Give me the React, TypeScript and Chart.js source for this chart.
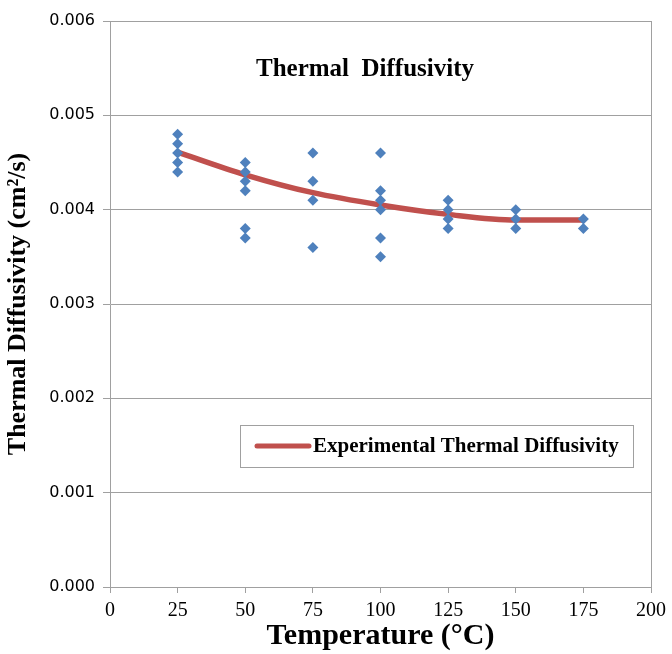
import React, { useEffect, useRef } from "react";
import { Chart, registerables } from "chart.js";

Chart.register(...registerables);

const chartTitle = "Thermal  Diffusivity";
const xAxisTitle = "Temperature (°C)";
const yAxisTitle = "Thermal Diffusivity (cm²/s)";
const legendLabel = "Experimental Thermal Diffusivity";

// measured points
const pointTemps = [
  25, 25, 25, 25, 25,
  50, 50, 50, 50, 50, 50,
  75, 75, 75, 75,
  100, 100, 100, 100, 100, 100,
  125, 125, 125, 125,
  150, 150, 150,
  175, 175,
];
const pointDiffusivity = [
  0.0048, 0.0047, 0.0046, 0.0045, 0.0044,
  0.0045, 0.0044, 0.0043, 0.0042, 0.0038, 0.0037,
  0.0046, 0.0043, 0.0041, 0.0036,
  0.0046, 0.0042, 0.0041, 0.004, 0.0037, 0.0035,
  0.0041, 0.004, 0.0039, 0.0038,
  0.004, 0.0039, 0.0038,
  0.0039, 0.0038,
];

// fitted trend
const trendTemps = [25, 50, 75, 100, 125, 150, 175];
const trendDiffusivity = [0.00461, 0.00437, 0.00418, 0.00405, 0.00395, 0.00389, 0.00389];

const xTicks = [0, 25, 50, 75, 100, 125, 150, 175, 200];
const yTicks = [0, 0.001, 0.002, 0.003, 0.004, 0.005, 0.006];

const BLUE = "#4F81BD";
const RED = "#C0504D";
const GRAY = "#A0A0A0";
const SERIF = "'Liberation Serif', 'Times New Roman', serif";
const SANS = "'DejaVu Sans', sans-serif";

const overlayPlugin = {
  id: "overlay",
  afterDraw(chart: any) {
    const { ctx, chartArea } = chart;
    const { left, right, top, bottom } = chartArea;
    ctx.save();
    // right border of plot area
    ctx.strokeStyle = GRAY;
    ctx.lineWidth = 1;
    ctx.beginPath();
    ctx.moveTo(Math.round(right) + 0.5, top);
    ctx.lineTo(Math.round(right) + 0.5, bottom);
    ctx.stroke();

    // chart title inside plot
    ctx.fillStyle = "#000";
    ctx.font = `bold 25px ${SERIF}`;
    ctx.textAlign = "center";
    ctx.textBaseline = "middle";
    ctx.fillText(chartTitle, left + 255, top + 49);

    // legend box
    const bx = left + 130;
    const by = top + 404;
    const bw = 393;
    const bh = 42;
    ctx.fillStyle = "#fff";
    ctx.fillRect(bx, by, bw, bh);
    ctx.strokeStyle = GRAY;
    ctx.strokeRect(bx + 0.5, by + 0.5, bw, bh);
    ctx.strokeStyle = RED;
    ctx.lineWidth = 5;
    ctx.lineCap = "round";
    ctx.beginPath();
    ctx.moveTo(bx + 17, by + 21);
    ctx.lineTo(bx + 69, by + 21);
    ctx.stroke();
    ctx.fillStyle = "#000";
    ctx.font = `bold 21px ${SERIF}`;
    ctx.textAlign = "left";
    ctx.textBaseline = "middle";
    ctx.fillText(legendLabel, bx + 73, by + 22);
    ctx.restore();
  },
};

export default function App() {
  const canvasRef = useRef<HTMLCanvasElement | null>(null);

  useEffect(() => {
    if (!canvasRef.current) return;
    const chart = new Chart(canvasRef.current, {
      type: "scatter",
      data: {
        datasets: [
          {
            label: "Measured",
            data: pointTemps.map((t, i) => ({ x: t, y: pointDiffusivity[i] })),
            pointStyle: "rectRot",
            pointRadius: 5.5,
            pointBackgroundColor: BLUE,
            pointBorderColor: BLUE,
            pointBorderWidth: 0,
            showLine: false,
          },
          {
            label: legendLabel,
            data: trendTemps.map((t, i) => ({ x: t, y: trendDiffusivity[i] })),
            showLine: true,
            pointRadius: 0,
            borderColor: RED,
            borderWidth: 5.5,
            cubicInterpolationMode: "monotone",
            fill: false,
          },
        ],
      },
      options: {
        responsive: false,
        animation: false,
        layout: { padding: { top: 21, right: 19, left: 0, bottom: 0 } },
        plugins: {
          legend: { display: false },
          title: { display: false },
          tooltip: { enabled: false },
        },
        scales: {
          x: {
            type: "linear",
            min: 0,
            max: 200,
            afterBuildTicks: (scale: any) => {
              scale.ticks = xTicks.map((v) => ({ value: v }));
            },
            afterFit: (scale: any) => {
              scale.height = 67;
            },
            ticks: {
              color: "#000",
              font: { family: SERIF, size: 20 },
              padding: 6,
              maxRotation: 0,
              autoSkip: false,
            },
            grid: {
              drawOnChartArea: false,
              drawTicks: true,
              tickLength: 6,
              color: GRAY,
            },
            border: { color: GRAY, width: 1 },
            title: {
              display: true,
              text: xAxisTitle,
              color: "#000",
              font: { family: SERIF, size: 30, weight: "bold" },
              padding: { top: 0, bottom: 0 },
            },
          },
          y: {
            type: "linear",
            min: 0,
            max: 0.006,
            afterBuildTicks: (scale: any) => {
              scale.ticks = yTicks.map((v) => ({ value: v }));
            },
            afterFit: (scale: any) => {
              scale.width = 110;
            },
            ticks: {
              color: "#000",
              font: { family: SANS, size: 16 },
              padding: 8,
              callback: (v: any) => Number(v).toFixed(3),
            },
            grid: {
              color: GRAY,
              tickLength: 7,
              drawTicks: true,
            },
            border: { color: GRAY, width: 1 },
            title: {
              display: true,
              text: yAxisTitle,
              color: "#000",
              font: { family: SERIF, size: 26, weight: "bold" },
              padding: { top: 3, bottom: 2 },
            },
          },
        },
      } as any,
      plugins: [overlayPlugin],
    });
    return () => chart.destroy();
  }, []);

  return (
    <div style={{ position: "fixed", left: 0, top: 0, width: 672, height: 654, background: "#fff" }}>
      <canvas ref={canvasRef} width={672} height={654} style={{ display: "block" }} />
    </div>
  );
}
